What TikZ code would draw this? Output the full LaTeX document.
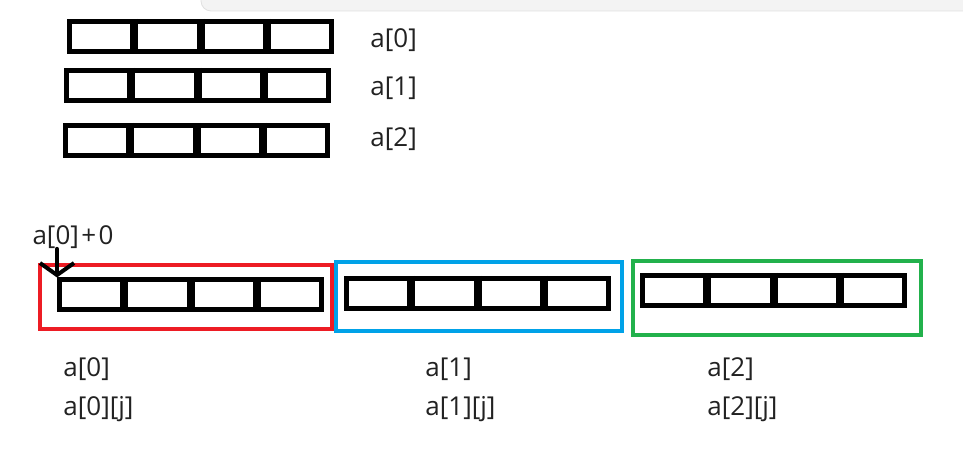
\documentclass[tikz,border=0pt]{standalone}
\usepackage{xcolor}
\usepackage{fontspec}
\usepackage{tikz}
\usetikzlibrary{arrows.meta,positioning,calc}
\newfontfamily\labelfont{Open Sans}
\definecolor{ink}{RGB}{34,34,34}
\definecolor{paintred}{RGB}{237,28,36}
\definecolor{paintblue}{RGB}{0,162,232}
\definecolor{paintgreen}{RGB}{34,177,76}
\definecolor{barbg}{RGB}{243,243,243}

\begin{document}
\begin{tikzpicture}[
  x=0.5pt, y=-0.5pt,
  every node/.style={font={\labelfont\fontsize{13}{15}\selectfont}},
  arraybox/.style={draw, line width=2.5pt, inner sep=0pt, minimum width=131pt, minimum height=15pt},
  framebox/.style={draw, line width=2.2pt, inner sep=0pt},
  lbl/.style={text=ink, inner sep=0pt, anchor=west},
  ptr/.style={-{Straight Barb[length=6pt, width=17pt]}, line width=2pt, line cap=round}
]
\path[use as bounding box, clip] (0,0) rectangle (963,459);
% window bar of the screenshot
\fill[barbg, draw=black!12, rounded corners=5pt] (201,-12) rectangle (975,11);

% three rows, one above the other
\node[arraybox] (t0) at (200.5,36.5) {};
\node[arraybox] (t1) at (197.5,85.5) {};
\node[arraybox] (t2) at (196.5,140.5) {};
\node[lbl] (lt0) at (370,40.5) {a[0]};
\node[lbl] (lt1) at (370,88.5) {a[1]};
\node[lbl] (lt2) at (370,139.5) {a[2]};

% the same rows laid out in memory
\node[framebox, draw=paintred, minimum width=146pt, minimum height=32pt] (fr) at (186,297) {};
\node[framebox, draw=paintblue, minimum width=143pt, minimum height=34.5pt] (fb) at (479,296.5) {};
\node[framebox, draw=paintgreen, minimum width=144pt, minimum height=37pt] (fg) at (777,298) {};
\node[arraybox] (r0) at (190.5,295) {};
\node[arraybox] (b0) at (477.5,293.5) {};
\node[arraybox] (g0) at (773.5,290.5) {};

\foreach \n in {t0,t1,t2,r0,b0,g0}
  \foreach \i in {1,2,3}
    \draw[line width=4pt] ($(\n.north west)!\i/4!(\n.north east)$) -- ($(\n.south west)!\i/4!(\n.south east)$);

\node[lbl, anchor=center] (plus) at (73,237) {a[0]\hspace{1.2pt}+\hspace{1.2pt}0};
\draw[ptr] (plus.south -| r0.north west) -- (r0.north west);

\node[lbl] (lr) at (63,369) {a[0]};
\node[lbl] (lrj) at (63,409) {a[0][j]};
\node[lbl] (lb) at (425,369) {a[1]};
\node[lbl] (lbj) at (425,409) {a[1][j]};
\node[lbl] (lg) at (707,369) {a[2]};
\node[lbl] (lgj) at (707,409) {a[2][j]};
\end{tikzpicture}
\end{document}
